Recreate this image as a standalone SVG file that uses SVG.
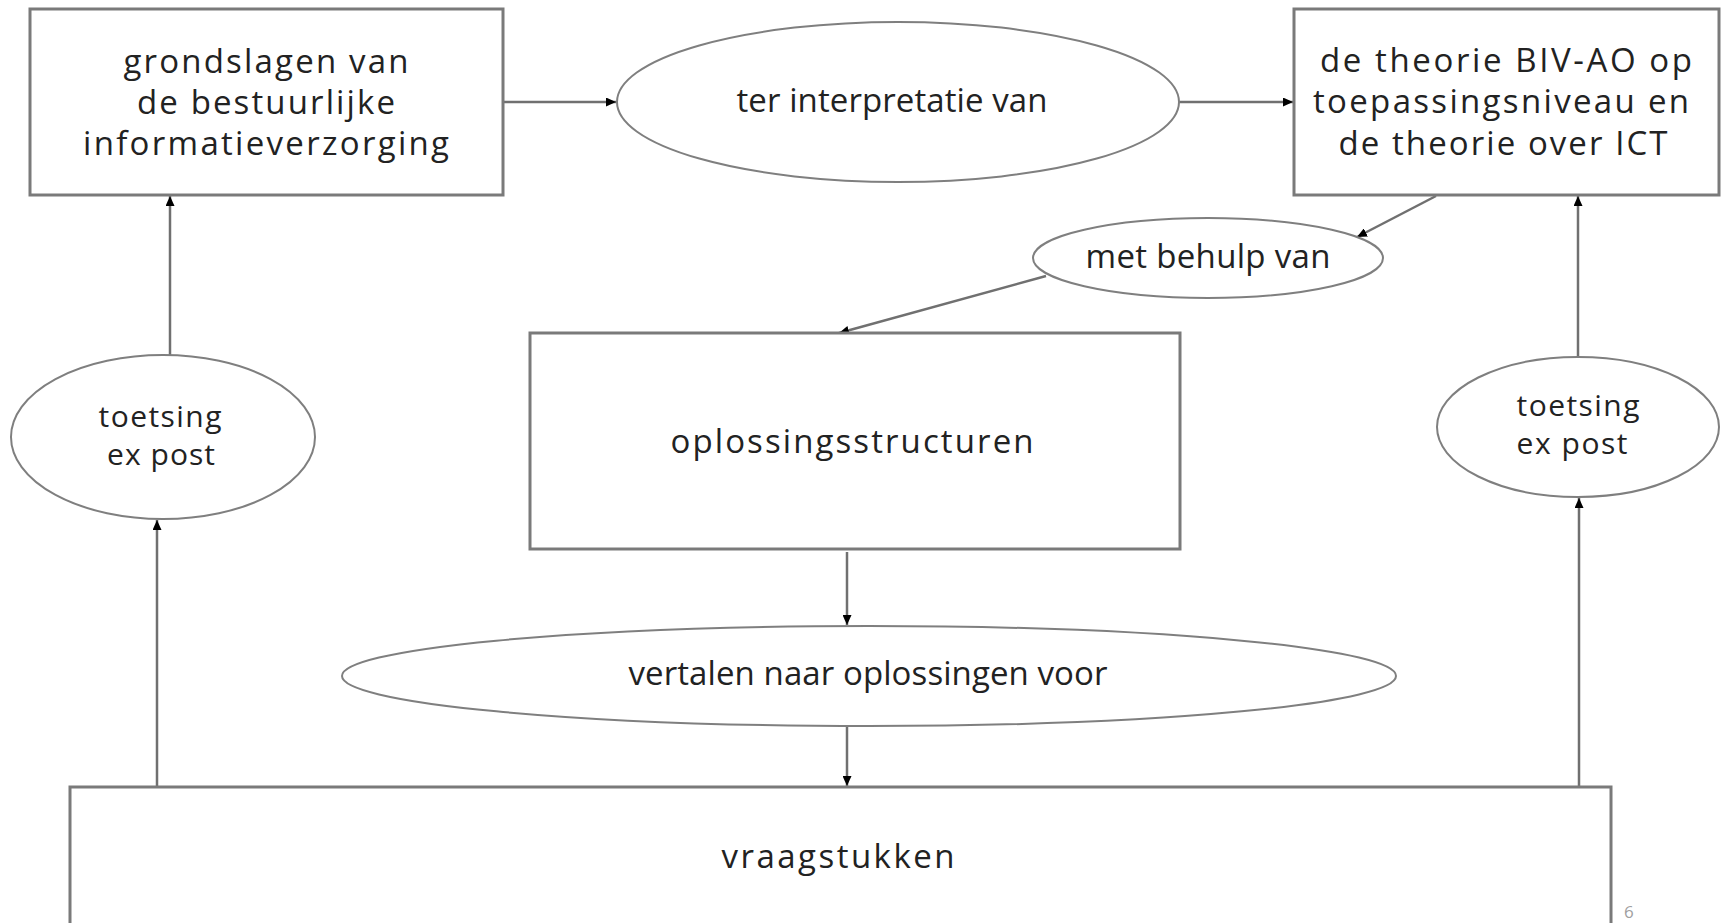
<svg xmlns="http://www.w3.org/2000/svg" width="1723" height="923" viewBox="0 0 1723 923">
<defs>
<style>
.box{fill:#fff;stroke:#7a7a7a;stroke-width:3}
.ell{fill:#fff;stroke:#7f7f7f;stroke-width:2}
.con{fill:none;stroke:#707070;stroke-width:2.5}
.t{font-family:"Open Sans","Liberation Sans",sans-serif;font-size:33px;fill:#222;text-anchor:middle}
.ts{font-size:30px}
.pg{font-family:"Open Sans","Liberation Sans",sans-serif;font-size:17px;fill:#a0a0a0}
</style>
<marker id="ah" markerUnits="userSpaceOnUse" markerWidth="11" markerHeight="9" refX="10" refY="4.5" orient="auto">
<path d="M0,0 L10,4.5 L0,9 z" fill="#000"/>
</marker>
</defs>
<rect width="1723" height="923" fill="#fff"/>
<g id="connectors">
<line class="con" x1="503" y1="102" x2="616" y2="102" marker-end="url(#ah)"/>
<line class="con" x1="1179" y1="102" x2="1293" y2="102" marker-end="url(#ah)"/>
<line class="con" x1="1436" y1="196" x2="1357" y2="237" marker-end="url(#ah)"/>
<line class="con" x1="1046" y1="276" x2="839" y2="333" marker-end="url(#ah)"/>
<line class="con" x1="847" y1="552" x2="847" y2="625" marker-end="url(#ah)"/>
<line class="con" x1="847" y1="727" x2="847" y2="786" marker-end="url(#ah)"/>
<line class="con" x1="157" y1="787" x2="157" y2="520" marker-end="url(#ah)"/>
<line class="con" x1="170" y1="355" x2="170" y2="196" marker-end="url(#ah)"/>
<line class="con" x1="1579" y1="787" x2="1579" y2="498" marker-end="url(#ah)"/>
<line class="con" x1="1578" y1="357" x2="1578" y2="196" marker-end="url(#ah)"/>
</g>
<g id="grondslagen">
<rect class="box" x="30" y="9" width="473" height="186"/>
<text class="t" x="266" y="73" textLength="285" lengthAdjust="spacing">grondslagen van</text>
<text class="t" x="266" y="114" textLength="258" lengthAdjust="spacing">de bestuurlijke</text>
<text class="t" x="266" y="155" textLength="366" lengthAdjust="spacing">informatieverzorging</text>
</g>
<g id="ter-interpretatie">
<ellipse class="ell" cx="898" cy="102" rx="281" ry="80"/>
<text class="t" x="892" y="112" textLength="311" lengthAdjust="spacing">ter interpretatie van</text>
</g>
<g id="theorie">
<rect class="box" x="1294" y="9" width="425" height="186"/>
<text class="t" x="1506" y="72" textLength="372" lengthAdjust="spacing">de theorie BIV-AO op</text>
<text class="t" x="1501" y="113" textLength="376" lengthAdjust="spacing">toepassingsniveau en</text>
<text class="t" x="1503" y="155" textLength="329" lengthAdjust="spacing">de theorie over ICT</text>
</g>
<g id="met-behulp">
<ellipse class="ell" cx="1208" cy="258" rx="175" ry="40"/>
<text class="t" x="1208" y="268" textLength="245" lengthAdjust="spacing">met behulp van</text>
</g>
<g id="oplossingsstructuren">
<rect class="box" x="530" y="333" width="650" height="216"/>
<text class="t" x="852" y="453" textLength="363" lengthAdjust="spacing">oplossingsstructuren</text>
</g>
<g id="vertalen">
<ellipse class="ell" cx="869" cy="676" rx="527" ry="50"/>
<text class="t" x="868" y="685" textLength="479" lengthAdjust="spacing">vertalen naar oplossingen voor</text>
</g>
<g id="vraagstukken">
<rect class="box" x="70" y="787" width="1541" height="200"/>
<text class="t" x="838" y="868" textLength="233" lengthAdjust="spacing">vraagstukken</text>
</g>
<g id="toetsing-links">
<ellipse class="ell" cx="163" cy="437" rx="152" ry="82"/>
<text class="t ts" x="160" y="427" textLength="123" lengthAdjust="spacing">toetsing</text>
<text class="t ts" x="161" y="465" textLength="108" lengthAdjust="spacing">ex post</text>
</g>
<g id="toetsing-rechts">
<ellipse class="ell" cx="1578" cy="427" rx="141" ry="70"/>
<text class="t ts" x="1578" y="416" textLength="123" lengthAdjust="spacing">toetsing</text>
<text class="t ts" x="1572" y="454" textLength="111" lengthAdjust="spacing">ex post</text>
</g>
<text class="pg" x="1624" y="918">6</text>
</svg>
